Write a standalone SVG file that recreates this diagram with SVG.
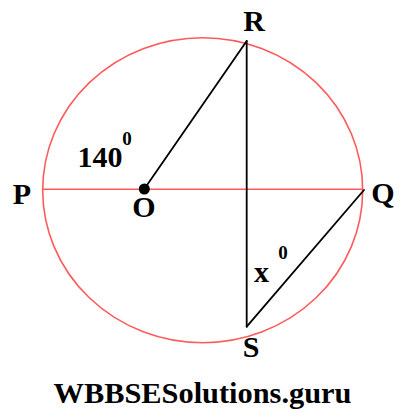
<svg xmlns="http://www.w3.org/2000/svg" width="409" height="418" viewBox="0 0 409 418">
<style>
.red{fill:none;stroke:#ff5a5a;stroke-width:1.6}
.blk{fill:none;stroke:#000;stroke-width:1.8;stroke-linecap:round;stroke-linejoin:round}
text{font-family:'Liberation Serif','DejaVu Serif','Times New Roman',serif;font-weight:bold;fill:#000;text-anchor:middle}
.lbl{font-size:30px}
.sup{font-size:19px}
.wm{font-size:30px}
</style>
<rect width="409" height="418" fill="#fff"/>
<g id="circle">
<ellipse class="red" cx="202.7" cy="190.2" rx="160" ry="152.5"/>
</g>
<g id="connectors">
<line id="PQ" class="red" x1="42.7" y1="189.3" x2="362.7" y2="189.3"/>
<line id="OR" class="blk" x1="144.3" y1="189" x2="246.7" y2="41"/>
<line id="RS" class="blk" x1="246.7" y1="41" x2="246.7" y2="326.7"/>
<line id="SQ" class="blk" x1="246.7" y1="326.7" x2="364" y2="190"/>
</g>
<g id="O">
<circle cx="144.3" cy="189" r="5.5" fill="#000"/>
<text class="lbl" x="144" y="217" font-family="Liberation Serif, serif">O</text>
</g>
<g id="R"><text class="lbl" x="254" y="31">R</text></g>
<g id="P"><text class="lbl" x="22" y="204">P</text></g>
<g id="Q"><text class="lbl" x="383" y="203">Q</text></g>
<g id="S"><text class="lbl" x="251" y="357">S</text></g>
<g id="angle140">
<text class="lbl" x="100" y="167">140</text>
<text class="sup" x="127" y="145">0</text>
</g>
<g id="anglex">
<text class="lbl" x="261.5" y="282">x</text>
<text class="sup" x="283" y="259">0</text>
</g>
<g id="watermark"><text class="wm" x="202.5" y="403" textLength="298" lengthAdjust="spacingAndGlyphs">WBBSESolutions.guru</text></g>
</svg>
